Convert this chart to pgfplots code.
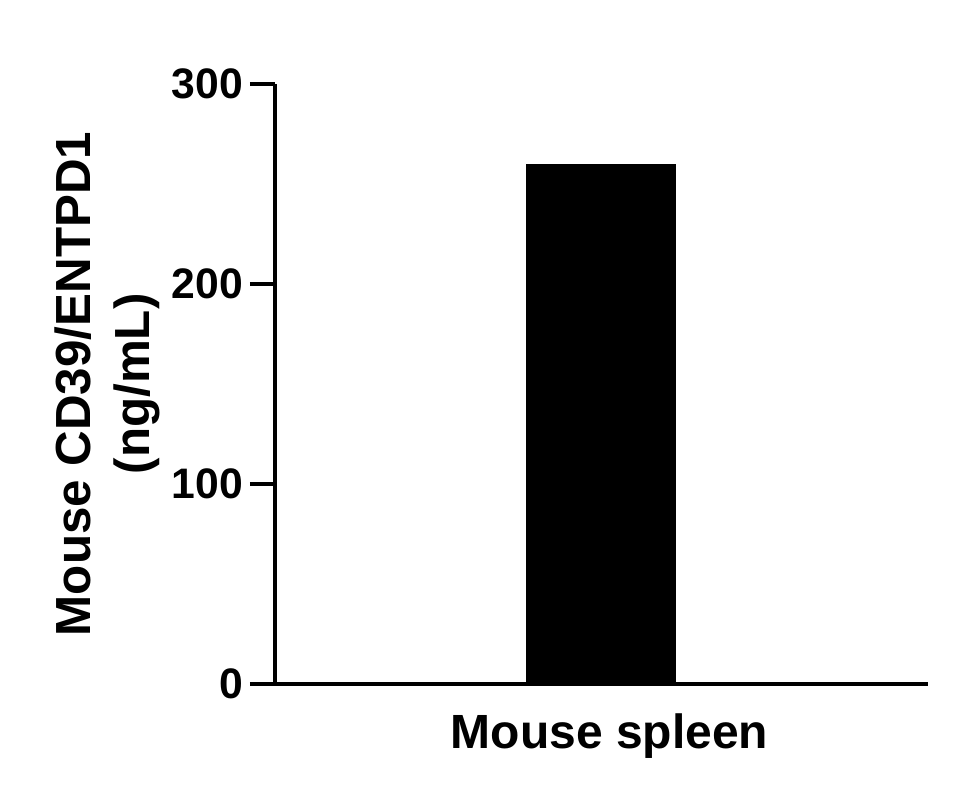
\documentclass[border=0pt]{standalone}
\usepackage{fontspec}
\setmainfont{Liberation Sans}
\usepackage{pgfplots}
\pgfplotsset{compat=1.18}

\begin{document}
\begin{tikzpicture}
\begin{axis}[
  at={(0,0)}, anchor=south west,
  scale only axis,
  width=489.75pt, height=450pt,
  xmin=0, xmax=2, ymin=0, ymax=300,
  axis x line=bottom, axis y line=left,
  axis line style={-, line width=3pt},
  xtick=\empty,
  ytick={0,100,200,300},
  tick align=outside,
  major tick length=18.75pt,
  every tick/.style={black, line width=3pt},
  /pgf/number format/assume math mode=true,
  yticklabel style={font=\fontsize{32}{38}\selectfont\bfseries, inner sep=0pt, xshift=-5pt},
  xlabel={Mouse spleen},
  xlabel style={at={(axis description cs:0.5,0)}, anchor=base, yshift=-48pt, xshift=6pt,
    font=\fontsize{36}{43}\selectfont\bfseries},
  ylabel={Mouse CD39/ENTPD1\\(ng/mL)},
  ylabel style={at={(axis description cs:0,0.5)}, anchor=center,
    align=center, inner sep=0pt, yshift=125.8pt,
    font=\fontsize{37}{44}\selectfont\bfseries},
]
\addplot[ybar, bar width=112.5pt, fill=black, draw=none] coordinates {(1,260)};
\end{axis}
\useasboundingbox (-206.25pt,-90pt) rectangle (511.5pt,513pt);
\end{tikzpicture}
\end{document}
